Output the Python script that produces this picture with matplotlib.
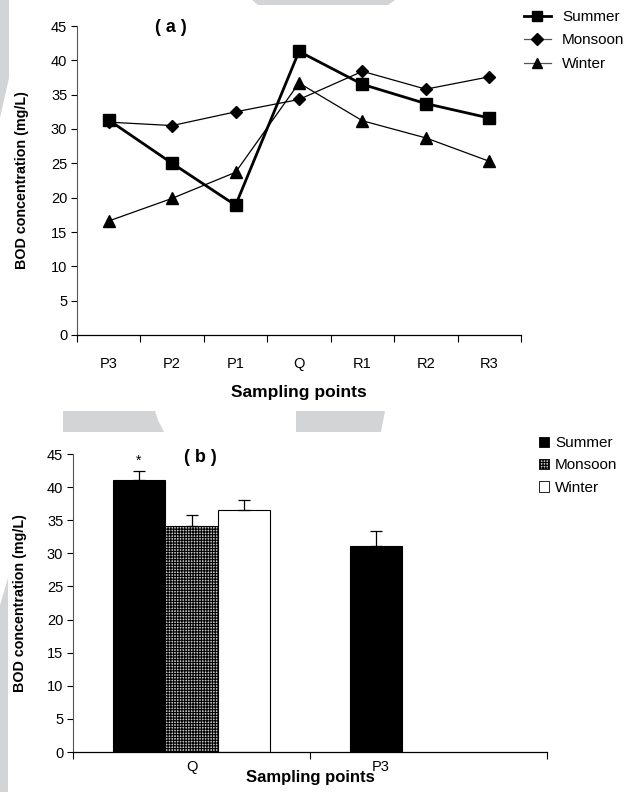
import matplotlib
matplotlib.use("Agg")
import matplotlib.pyplot as plt
from matplotlib.patches import Polygon, Patch
from matplotlib.lines import Line2D
import numpy as np

# ---- data -------------------------------------------------------------
sites_a = ["P3", "P2", "P1", "Q", "R1", "R2", "R3"]
summer_a = [31.3, 25.0, 18.9, 41.3, 36.5, 33.7, 31.6]
monsoon_a = [31.0, 30.5, 32.5, 34.3, 38.4, 35.8, 37.6]
winter_a = [16.6, 19.9, 23.7, 36.7, 31.2, 28.7, 25.3]

sites_b = ["Q", "P3"]
summer_b = [41.1, 31.1]
summer_b_err = [1.3, 2.2]
monsoon_b = [34.1]
monsoon_b_err = [1.7]
winter_b = [36.6]
winter_b_err = [1.5]

seasons = ["Summer", "Monsoon", "Winter"]
yticks = [0, 5, 10, 15, 20, 25, 30, 35, 40, 45]

plt.rcParams['font.family'] = ['Liberation Sans', 'DejaVu Sans']
plt.rcParams['hatch.linewidth'] = 0.8
plt.rcParams['hatch.color'] = '#303030'

W, H = 630, 794
fig = plt.figure(figsize=(W / 100, H / 100), dpi=100)


def fx(px):
    return px / W


def fy(py):
    return 1 - py / H


# light grey background shapes
shapes = [
    [(252, 0), (395, 0), (388, 5), (258, 5)],
    [(0, 0), (9, 0), (9, 78), (0, 118)],
    [(0, 605), (8, 578), (8, 792), (0, 792)],
    [(63, 411), (155, 411), (158, 420), (164, 432), (63, 432)],
    [(296, 411), (385, 411), (381, 432), (296, 432)],
]
for pts in shapes:
    fig.patches.append(Polygon([(fx(x), fy(y)) for x, y in pts], closed=True,
                               transform=fig.transFigure, facecolor='#d3d4d6',
                               edgecolor='none', zorder=0))

tick_fs = 10.5
ylab_fs = 10.3
leg_fs = 11


def style_axes(ax, n):
    ax.set_ylim(0, 45)
    ax.set_yticks(yticks)
    ax.set_xlim(-0.5, n - 0.5)
    ax.set_xticks(np.arange(-0.5, n, 1.0))
    ax.set_xticklabels([])
    ax.tick_params(axis='x', which='major', length=5, width=0.8, direction='out')
    ax.tick_params(axis='x', which='minor', length=0, labelsize=tick_fs)
    ax.tick_params(axis='y', length=4, width=0.8, labelsize=tick_fs, pad=3)
    for s in ('top', 'right'):
        ax.spines[s].set_visible(False)
    ax.spines['left'].set_color('#555555')
    ax.spines['left'].set_linewidth(0.8)
    ax.spines['bottom'].set_linewidth(0.9)
    ax.set_ylabel("BOD concentration (mg/L)", fontsize=ylab_fs, fontweight='bold')
    ax.patch.set_alpha(0)


# ---- (a) line chart ---------------------------------------------------
ax1 = fig.add_axes([fx(77), fy(335), fx(521) - fx(77), fy(26) - fy(335)])
xa = np.arange(len(sites_a))
ax1.plot(xa, summer_a, color='black', lw=2.0, marker='s', ms=8, zorder=3)
ax1.plot(xa, monsoon_a, color='black', lw=0.9, marker='D', ms=6, zorder=3)
ax1.plot(xa, winter_a, color='black', lw=0.9, marker='^', ms=8, zorder=3)
style_axes(ax1, len(sites_a))
ax1.set_xticks(xa, minor=True)
ax1.set_xticklabels(sites_a, minor=True)
ax1.tick_params(axis='x', which='minor', pad=16)
ax1.set_xlabel("Sampling points", fontsize=12.5, fontweight='bold', labelpad=10)
ax1.yaxis.set_label_coords(-0.107, 0.5)
fig.text(fx(171), fy(27), "( a )", fontsize=13, fontweight='bold', ha='center', va='center')

h_a = [Line2D([], [], color='black', lw=2.0, marker='s', ms=7),
       Line2D([], [], color='#555555', lw=0.9, marker='D', ms=6, mfc='black', mec='black'),
       Line2D([], [], color='#555555', lw=0.9, marker='^', ms=7, mfc='black', mec='black')]
fig.legend(h_a, seasons, loc='upper left', bbox_to_anchor=(fx(524), fy(10)),
           frameon=False, fontsize=leg_fs, handlelength=1.75, handletextpad=0.75,
           labelspacing=0.62, borderaxespad=0, borderpad=0)

# ---- (b) bar chart ----------------------------------------------------
ax2 = fig.add_axes([fx(73), fy(752), fx(547) - fx(73), fy(454) - fy(752)])
bw = 0.222
xb = np.arange(len(sites_b))
err_kw = dict(elinewidth=0.9, capsize=4.5, capthick=0.9, ecolor='black')
ax2.bar(xb - bw, summer_b, bw, color='black', edgecolor='black', lw=0.8,
        yerr=[np.zeros(len(summer_b)), summer_b_err], error_kw=err_kw, zorder=2)
ax2.bar(xb[:1], monsoon_b, bw, color='#c8c8c8', edgecolor='black', lw=0.8,
        hatch='++++++', yerr=[np.zeros(1), monsoon_b_err], error_kw=err_kw, zorder=2)
ax2.bar(xb[:1] + bw, winter_b, bw, color='white', edgecolor='black', lw=0.8,
        yerr=[np.zeros(1), winter_b_err], error_kw=err_kw, zorder=2)
ax2.text(xb[0] - bw, summer_b[0] + summer_b_err[0] + 0.5, "*", ha='center',
         va='bottom', fontsize=10)
style_axes(ax2, len(sites_b))
# category captions sit under the leading bar of each group
ax2.set_xticks([0.0, 0.8], minor=True)
ax2.set_xticklabels(sites_b, minor=True)
ax2.tick_params(axis='x', which='minor', pad=6)
ax2.set_xlabel("Sampling points", fontsize=12, fontweight='bold', labelpad=-3)
ax2.yaxis.set_label_coords(-0.097, 0.5)
fig.text(fx(200), fy(458), "( b )", fontsize=13, fontweight='bold', ha='center', va='center')

h_b = [Patch(facecolor='black', edgecolor='black', lw=0.6),
       Patch(facecolor='#c8c8c8', edgecolor='black', lw=0.6, hatch='++++++'),
       Patch(facecolor='white', edgecolor='black', lw=0.6)]
fig.legend(h_b, seasons, loc='upper left', bbox_to_anchor=(fx(539), fy(436)),
           frameon=False, fontsize=leg_fs, handlelength=0.65, handleheight=0.65,
           handletextpad=0.4, labelspacing=0.55, borderaxespad=0, borderpad=0)

fig.savefig("out.png", dpi=100)
